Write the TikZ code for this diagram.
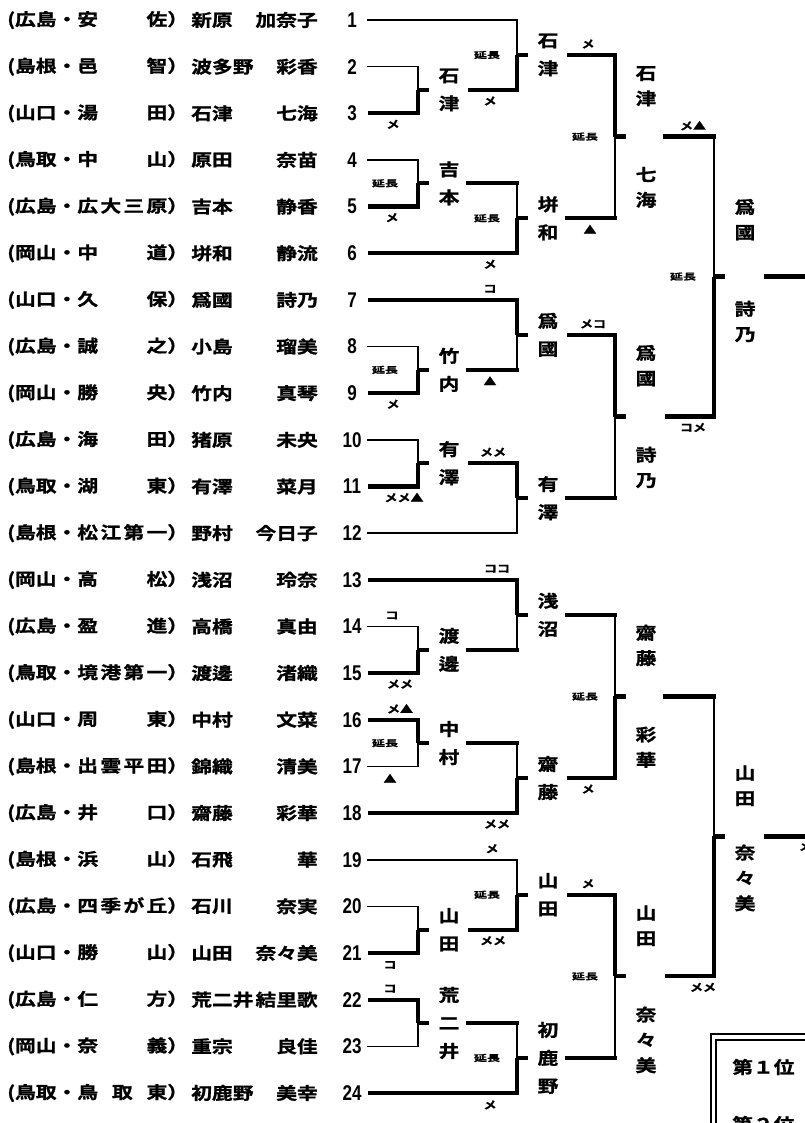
\documentclass[tikz,border=0pt]{standalone}
\usepackage{fontspec}
\newfontfamily\jpfont{Noto Sans CJK JP Bold}[FakeStretch=1.22, FakeBold=1.2]
\newfontfamily\jpwide{Noto Sans CJK JP Bold}[FakeStretch=1.5, FakeBold=1]
\newfontfamily\numfont{Liberation Sans Bold}[FakeStretch=0.8]
\usetikzlibrary{calc}

\tikzset{
  jp/.style={font=\jpfont\fontsize{12.75}{15}\selectfont, inner sep=0pt},
  vname/.style={font=\jpfont\fontsize{12.75}{21}\selectfont, align=center, inner sep=0pt},
  cname/.style={font=\jpfont\fontsize{12.75}{19}\selectfont, align=center, inner sep=0pt},
  num/.style={font=\numfont\fontsize{16}{17}\selectfont, inner sep=0pt},
  score/.style={font=\jpfont\fontsize{8}{9}\selectfont, inner sep=0pt},
  extmark/.style={font=\jpwide\fontsize{6.5}{7}\selectfont, inner sep=0pt},
  win/.style={line width=3.2pt},
  lose/.style={line width=1.2pt},
  stub/.style={line width=3.2pt}
}

% bout won by the upper side
\newcommand{\boutT}[5]{%
  \coordinate (#1) at ($(#2 -| #4)!0.5!(#3 -| #4)$);
  \draw[win] (#2) -- (#2 -| #4) -- (#1);
  \draw[#5, line cap=rect] (#3) -- (#3 -| #4);
  \draw[lose] (#3 -| #4) -- (#1);
  \draw[stub] (#1) -- ++(11,0);
  \coordinate (#1o) at ($(#1)+(50,0)$);
}
% bout won by the lower side
\newcommand{\boutB}[5]{%
  \coordinate (#1) at ($(#2 -| #4)!0.5!(#3 -| #4)$);
  \draw[#5, line cap=rect] (#2) -- (#2 -| #4);
  \draw[lose] (#2 -| #4) -- (#1);
  \draw[win] (#3) -- (#3 -| #4) -- (#1);
  \draw[stub] (#1) -- ++(11,0);
  \coordinate (#1o) at ($(#1)+(50,0)$);
}

\begin{document}
\begin{tikzpicture}[x=0.75pt, y=-0.75pt]
\useasboundingbox (0,0) rectangle (805,1123);
\clip (0,0) rectangle (805,1123);

% entries
\foreach \i/\pref/\sch/\sur/\giv in {
  1/広島/安\hfill 佐/新原/加奈子,
  2/島根/邑\hfill 智/波多野/彩香,
  3/山口/湯\hfill 田/石津/七海,
  4/鳥取/中\hfill 山/原田/奈苗,
  5/広島/広\hfill 大\hfill 三\hfill 原/吉本/静香,
  6/岡山/中\hfill 道/垪和/静流,
  7/山口/久\hfill 保/爲國/詩乃,
  8/広島/誠\hfill 之/小島/瑠美,
  9/岡山/勝\hfill 央/竹内/真琴,
  10/広島/海\hfill 田/猪原/未央,
  11/鳥取/湖\hfill 東/有澤/菜月,
  12/島根/松\hfill 江\hfill 第\hfill 一/野村/今日子,
  13/岡山/高\hfill 松/浅沼/玲奈,
  14/広島/盈\hfill 進/高橋/真由,
  15/鳥取/境\hfill 港\hfill 第\hfill 一/渡邊/渚織,
  16/山口/周\hfill 東/中村/文菜,
  17/島根/出\hfill 雲\hfill 平\hfill 田/錦織/清美,
  18/広島/井\hfill 口/齋藤/彩華,
  19/島根/浜\hfill 山/石飛/華,
  20/広島/四\hfill 季\hfill が\hfill 丘/石川/奈実,
  21/山口/勝\hfill 山/山田/奈々美,
  22/広島/仁\hfill 方/荒二井/結里歌,
  23/岡山/奈\hfill 義/重宗/良佳,
  24/鳥取/鳥\hfill 取\hfill 東/初鹿野/美幸}{
  \pgfmathsetmacro\yy{20+(\i-1)*46.65}
  \node[jp, anchor=west] (c\i) at (7,\yy) {({\pref}・\makebox[67.5pt]{\sch}）};
  \node[jp, anchor=west] (f\i) at (191,\yy) {\sur};
  \node[jp, anchor=east] (g\i) at (318,\yy) {\giv};
  \node[num] (n\i) at (352,\yy) {\i};
  \coordinate (r\i) at (368,\yy);
}

\coordinate (v1) at (418,0);
\coordinate (v2) at (517,0);
\coordinate (v3) at (615,0);
\coordinate (v4) at (714,0);

% upper half
\boutB{a1}{r2}{r3}{v1}{lose}
\boutB{a2}{r1}{a1o}{v2}{lose}
\boutB{b1}{r4}{r5}{v1}{lose}
\boutB{b2}{b1o}{r6}{v2}{win}
\boutT{t1}{a2o}{b2o}{v3}{win}
\boutB{c1}{r8}{r9}{v1}{lose}
\boutT{c2}{r7}{c1o}{v2}{win}
\boutB{d1}{r10}{r11}{v1}{lose}
\boutT{d2}{d1o}{r12}{v2}{lose}
\boutT{t2}{c2o}{d2o}{v3}{win}
\boutB{s1}{t1o}{t2o}{v4}{win}
\draw[win] (s1o) -- ++(60,0);

% lower half
\boutB{e1}{r14}{r15}{v1}{lose}
\boutT{e2}{r13}{e1o}{v2}{win}
\boutT{f1}{r16}{r17}{v1}{lose}
\boutB{f2}{f1o}{r18}{v2}{win}
\boutB{t3}{e2o}{f2o}{v3}{win}
\boutB{g1}{r20}{r21}{v1}{lose}
\boutB{g2}{r19}{g1o}{v2}{lose}
\boutT{h1}{r22}{r23}{v1}{lose}
\boutB{h2}{h1o}{r24}{v2}{win}
\boutT{t4}{g2o}{h2o}{v3}{win}
\boutB{s2}{t3o}{t4o}{v4}{win}
\draw[win] (s2o) -- ++(60,0);

% names of the winners
\node[vname] (m-a1) at ($(a1)+(31,0)$) {石\\津};
\node[vname] (m-b1) at ($(b1)+(31,0)$) {吉\\本};
\node[vname] (m-c1) at ($(c1)+(31,0)$) {竹\\内};
\node[vname] (m-d1) at ($(d1)+(31,0)$) {有\\澤};
\node[vname] (m-e1) at ($(e1)+(31,0)$) {渡\\邊};
\node[vname] (m-f1) at ($(f1)+(31,0)$) {中\\村};
\node[vname] (m-g1) at ($(g1)+(31,0)$) {山\\田};
\node[vname] (m-h1) at ($(h1)+(31,0)$) {荒\\二\\井};
\node[vname] (m-a2) at ($(a2)+(31,0)$) {石\\津};
\node[vname] (m-b2) at ($(b2)+(31,0)$) {垪\\和};
\node[vname] (m-c2) at ($(c2)+(31,0)$) {爲\\國};
\node[vname] (m-d2) at ($(d2)+(31,0)$) {有\\澤};
\node[vname] (m-e2) at ($(e2)+(31,0)$) {浅\\沼};
\node[vname] (m-f2) at ($(f2)+(31,0)$) {齋\\藤};
\node[vname] (m-g2) at ($(g2)+(31,0)$) {山\\田};
\node[vname] (m-h2) at ($(h2)+(31,0)$) {初\\鹿\\野};
\node[cname, anchor=south] (m-t1a) at ($(t1)+(31,-30)$) {石\\津};
\node[cname, anchor=north] (m-t1b) at ($(t1)+(31,30)$) {七\\海};
\node[cname, anchor=south] (m-t2a) at ($(t2)+(31,-30)$) {爲\\國};
\node[cname, anchor=north] (m-t2b) at ($(t2)+(31,30)$) {詩\\乃};
\node[cname, anchor=south] (m-t3a) at ($(t3)+(31,-30)$) {齋\\藤};
\node[cname, anchor=north] (m-t3b) at ($(t3)+(31,30)$) {彩\\華};
\node[cname, anchor=south] (m-t4a) at ($(t4)+(31,-30)$) {山\\田};
\node[cname, anchor=north] (m-t4b) at ($(t4)+(31,30)$) {奈\\々\\美};
\node[cname, anchor=south] (m-s1a) at ($(s1)+(31,-36)$) {爲\\國};
\node[cname, anchor=north] (m-s1b) at ($(s1)+(31,24)$) {詩\\乃};
\node[cname, anchor=south] (m-s2a) at ($(s2)+(31,-30)$) {山\\田};
\node[cname, anchor=north] (m-s2b) at ($(s2)+(31,8)$) {奈\\々\\美};

% scores
\node[score] (k1) at ($(r3)+(25,11)$) {メ};
\node[extmark] (k2) at ($(a2)+(-30,0)$) {延長};
\node[score] (k3) at ($(a1o)+(22,11)$) {メ};
\node[extmark] (k4) at ($(b1)+(-33,0)$) {延長};
\node[score] (k5) at ($(r5)+(24,11)$) {メ};
\node[extmark] (k6) at ($(b2)+(-30,0)$) {延長};
\node[score] (k7) at ($(r6)+(122,11)$) {メ};
\node[score] (k8) at ($(a2o)+(21,-11)$) {メ};
\node[extmark] (k9) at ($(t1)+(-30,0)$) {延長};
\node[score] (k10) at ($(b2o)+(23,11)$) {▲};
\node[extmark] (k11) at ($(c1)+(-33,0)$) {延長};
\node[score] (k12) at ($(r9)+(25,11)$) {メ};
\node[score] (k13) at ($(r7)+(122,-11)$) {コ};
\node[score] (k14) at ($(c1o)+(22,11)$) {▲};
\node[score] (k15) at ($(r11)+(36,11)$) {メメ▲};
\node[score] (k16) at ($(d1o)+(25,-11)$) {メメ};
\node[score] (k17) at ($(c2o)+(26,-11)$) {メコ};
\node[score] (k18) at ($(t1o)+(28,-11)$) {メ▲};
\node[extmark] (k19) at ($(s1)+(-31,0)$) {延長};
\node[score] (k20) at ($(t2o)+(28,11)$) {コメ};
\node[score] (k21) at ($(r14)+(24,-11)$) {コ};
\node[score] (k22) at ($(r15)+(32,11)$) {メメ};
\node[score] (k23) at ($(r13)+(129,-11)$) {ココ};
\node[score] (k24) at ($(r16)+(32,-11)$) {メ▲};
\node[extmark] (k25) at ($(f1)+(-33,0)$) {延長};
\node[score] (k26) at ($(r17)+(22,12)$) {▲};
\node[score] (k27) at ($(r18)+(129,11)$) {メメ};
\node[extmark] (k28) at ($(t3)+(-30,0)$) {延長};
\node[score] (k29) at ($(f2o)+(21,11)$) {メ};
\node[score] (k30) at ($(r21)+(22,12)$) {コ};
\node[score] (k31) at ($(r19)+(124,-11)$) {メ};
\node[extmark] (k32) at ($(g2)+(-30,0)$) {延長};
\node[score] (k33) at ($(g1o)+(25,11)$) {メメ};
\node[score] (k34) at ($(r22)+(22,-11)$) {コ};
\node[extmark] (k35) at ($(h2)+(-30,0)$) {延長};
\node[score] (k36) at ($(r24)+(122,12)$) {メ};
\node[score] (k37) at ($(g2o)+(21,-11)$) {メ};
\node[extmark] (k38) at ($(t4)+(-30,0)$) {延長};
\node[score] (k39) at ($(t4o)+(38,11)$) {メメ};
\node[score] (k40) at ($(s2o)+(48,10)$) {メメ};

% ranking box
\draw[lose] (711,1140) |- (815,1034);
\draw[lose] (716,1140) |- (815,1040);
\node[jp, anchor=west] (p1) at (732,1067) {第１位};
\node[jp, anchor=west] (p2) at (732,1124) {第２位};
\end{tikzpicture}
\end{document}
